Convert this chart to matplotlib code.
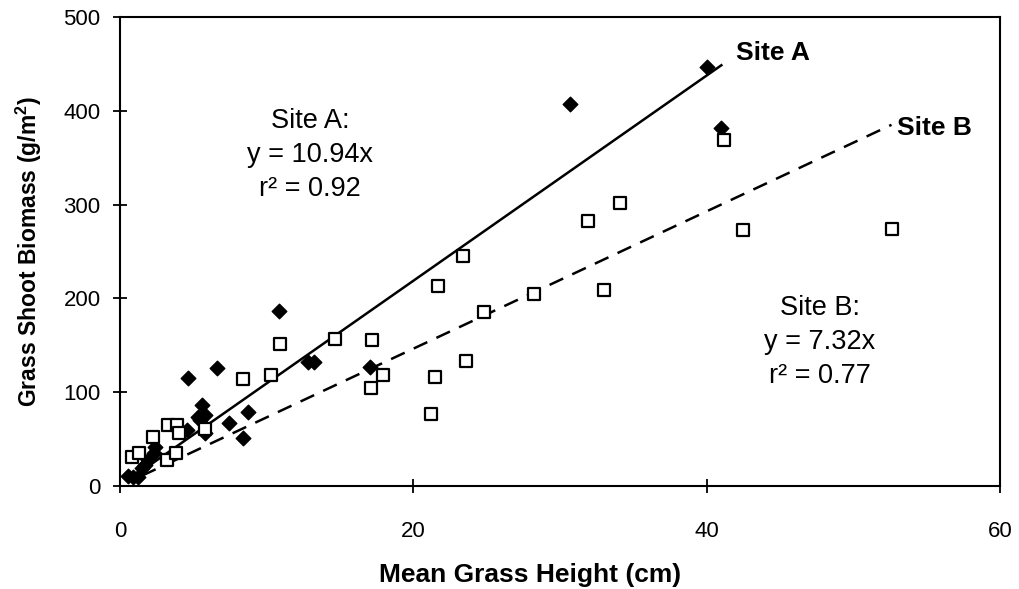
import numpy as np
import matplotlib
matplotlib.use("Agg")
import matplotlib.pyplot as plt

plt.rcParams['font.family'] = ['Liberation Sans', 'DejaVu Sans']

# Site A (filled diamonds)
site_a_x = [0.57, 0.9, 1.25, 1.5, 1.7, 1.9, 2.3, 2.4, 4.55, 4.66, 5.3, 5.45,
            5.6, 5.8, 5.8, 6.6, 7.4, 8.36, 8.75, 10.86, 12.8, 13.2, 17.05,
            30.7, 40.05, 40.97]
site_a_y = [11, 10, 10, 19, 22, 28, 35, 42, 60, 115, 74, 70,
            86, 76, 56, 126, 67, 51, 79, 187, 132, 132, 127,
            407, 447, 382]

# Site B (open squares)
site_b_x = [0.8, 1.3, 2.27, 3.2, 3.3, 3.8, 3.9, 4.0, 5.8, 8.36, 10.3, 10.9,
            14.66, 17.1, 17.2, 17.9, 21.2, 21.5, 21.7, 23.4, 23.6, 24.8,
            28.2, 31.9, 33.0, 34.1, 41.2, 42.5, 52.65]
site_b_y = [31, 35, 52, 28, 65, 35, 65, 56, 61, 114, 118, 151,
            157, 104, 156, 118, 77, 116, 213, 245, 133, 185,
            205, 282, 209, 302, 369, 273, 274]

slope_a = 10.94
slope_b = 7.32
fit_a_x = np.array([0.6, 41.0])
fit_b_x = np.array([1.5, 52.6])

fig = plt.figure(figsize=(10.19, 5.89), dpi=100)
ax = fig.add_axes([0.1178, 0.1749, 0.8636, 0.7963])

ax.plot(fit_a_x, slope_a * fit_a_x, color='black', lw=1.8, zorder=2)
ax.plot(fit_b_x, slope_b * fit_b_x, color='black', lw=1.8,
        dashes=(6, 4), zorder=2)

ax.scatter(site_a_x, site_a_y, marker='D', s=55, c='black', zorder=3)
ax.scatter(site_b_x, site_b_y, marker='s', s=70, facecolors='white',
           edgecolors='black', linewidths=1.6, zorder=3)

ax.set_xlim(0, 60)
ax.set_ylim(0, 500)
ax.set_xticks([0, 20, 40, 60])
ax.set_yticks([0, 100, 200, 300, 400, 500])
ax.tick_params(direction='inout', length=10, width=1.3, labelsize=16)
ax.tick_params(axis='x', pad=20)
ax.tick_params(axis='y', pad=9)
for s in ax.spines.values():
    s.set_linewidth(1.5)

ax.set_xlabel('Mean Grass Height (cm)', fontsize=19, fontweight='bold')
ax.xaxis.set_label_coords(0.466, -0.165)
ax.set_ylabel('Grass Shoot Biomass (g/m$^\\mathregular{2}$)', fontsize=16.5,
              fontweight='bold', labelpad=14)

ax.text(42.0, 462, 'Site A', fontsize=19, fontweight='bold',
        ha='left', va='center')
ax.text(53.0, 382, 'Site B', fontsize=19, fontweight='bold',
        ha='left', va='center')

ax.text(12.95, 353, 'Site A:\ny = 10.94x\nr\u00b2 = 0.92', fontsize=19.5,
        ha='center', va='center', linespacing=1.4)
ax.text(47.7, 153, 'Site B:\ny = 7.32x\nr\u00b2 = 0.77', fontsize=19.5,
        ha='center', va='center', linespacing=1.4)

fig.savefig('out.png', dpi=100)
